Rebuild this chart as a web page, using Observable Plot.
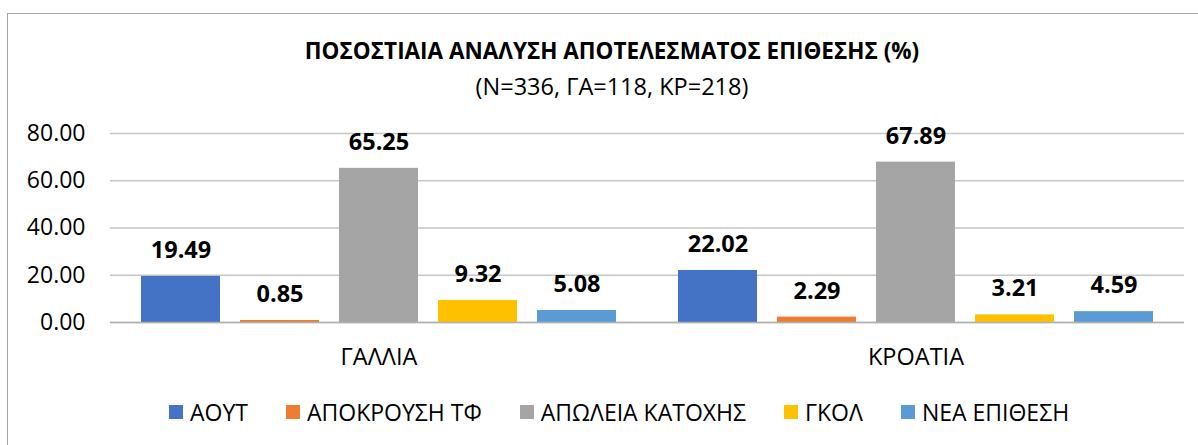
<!DOCTYPE html>
<html><head><meta charset="utf-8">
<script src="https://cdn.jsdelivr.net/npm/d3@7"></script>
<script src="https://cdn.jsdelivr.net/npm/@observablehq/plot@0.6"></script>
<style>
body{margin:0;background:#fff;font-family:"Open Sans","Noto Sans",sans-serif;}
#wrap{position:relative;width:1198px;height:445px;overflow:hidden;background:#fff;}
#frame{position:absolute;left:7px;top:13px;width:1260px;height:520px;border:1.5px solid #a6a6a6;box-sizing:border-box;}
.ttl{position:absolute;left:0;width:1224px;text-align:center;color:#000;white-space:nowrap;}
#title{top:37px;font-size:22.5px;font-weight:bold;line-height:28px;}
#subtitle{top:71px;font-size:23.5px;line-height:30px;}
#chart{position:absolute;left:0;top:110px;}
#legend{position:absolute;left:169px;top:397px;display:flex;align-items:center;font-size:23px;line-height:30px;white-space:nowrap;color:#000;}
#legend .item{display:flex;align-items:center;margin-right:38px;}
#legend .sw{width:14px;height:14px;margin-right:7px;}
</style></head>
<body>
<div id="wrap">
  <div id="frame"></div>
  <div id="title" class="ttl"></div>
  <div id="subtitle" class="ttl"></div>
  <div id="chart"></div>
  <div id="legend"></div>
</div>
<script>
const titleText = "ΠΟΣΟΣΤΙΑΙΑ ΑΝΑΛΥΣΗ ΑΠΟΤΕΛΕΣΜΑΤΟΣ ΕΠΙΘΕΣΗΣ (%)";
const subtitleText = "(N=336, ΓΑ=118, ΚΡ=218)";
const countries = ["ΓΑΛΛΙΑ", "ΚΡΟΑΤΙΑ"];
const series = ["ΑΟΥΤ", "ΑΠΟΚΡΟΥΣΗ ΤΦ", "ΑΠΩΛΕΙΑ ΚΑΤΟΧΗΣ", "ΓΚΟΛ", "ΝΕΑ ΕΠΙΘΕΣΗ"];
const colors = ["#4472C4", "#ED7D31", "#A5A5A5", "#FFC000", "#5B9BD5"];
const franceValues = [19.49, 0.85, 65.25, 9.32, 5.08];
const croatiaValues = [22.02, 2.29, 67.89, 3.21, 4.59];
const yTicks = [0, 20, 40, 60, 80];

const valuesByCountry = [franceValues, croatiaValues];
const rows = [];
countries.forEach((c, i) => series.forEach((s, j) => rows.push({country: c, series: s, value: valuesByCountry[i][j]})));

document.getElementById("title").textContent = titleText;
document.getElementById("subtitle").textContent = subtitleText;

const fmt = d3.format(".2f");
const plot = Plot.plot({
  width: 1198,
  height: 280,
  marginLeft: 110,
  marginRight: 14,
  marginTop: 23,
  marginBottom: 68,
  style: {fontSize: "23px", fontFamily: "'Open Sans','Noto Sans',sans-serif", color: "#000", background: "transparent"},
  fx: {domain: countries, padding: 0, axis: "bottom", tickSize: 0, tickPadding: 26, label: null},
  x: {domain: series, paddingInner: 0.2, paddingOuter: 0.3, axis: null},
  y: {domain: [0, 80], ticks: yTicks, tickFormat: fmt, tickSize: 0, tickPadding: 25, label: null},
  color: {domain: series, range: colors},
  marks: [
    Plot.ruleY(yTicks, {stroke: "#c6c6c6", strokeWidth: 1.3}),
    Plot.barY(rows, {fx: "country", x: "series", y: "value", fill: "series"}),
    Plot.ruleY([0], {stroke: "#b0b0b0", strokeWidth: 1.5}),
    Plot.text(rows, {fx: "country", x: "series", y: "value", text: d => fmt(d.value), dy: -26, fontWeight: "bold", fontSize: 23.5, fill: "#000"})
  ]
});
d3.select(plot).selectAll('[aria-label^="fx-axis"]').style("font-size", "23.5px");
document.getElementById("chart").appendChild(plot);

const legend = d3.select("#legend");
series.forEach((s, i) => {
  const it = legend.append("div").attr("class", "item");
  it.append("div").attr("class", "sw").style("background", colors[i]);
  it.append("span").text(s);
});
</script>
</body></html>
